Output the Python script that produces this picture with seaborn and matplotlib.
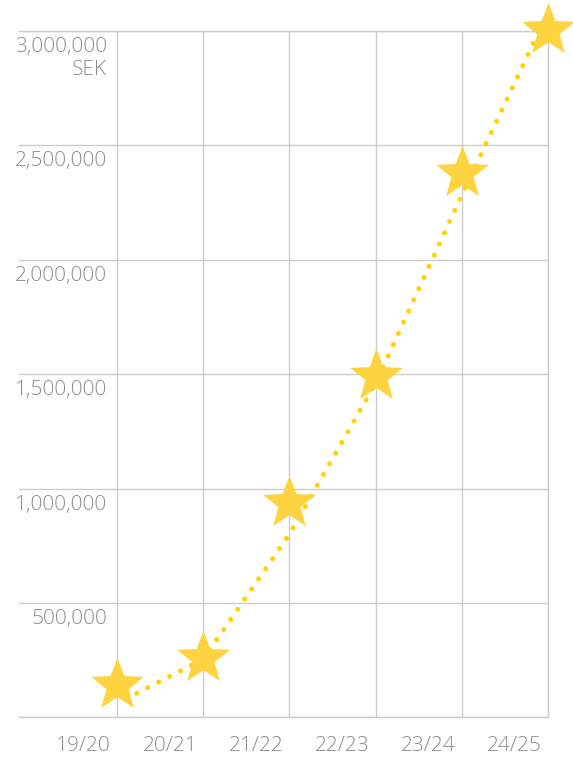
import numpy as np
import pandas as pd
import matplotlib
matplotlib.use("Agg")
import matplotlib.pyplot as plt
from matplotlib.path import Path
import seaborn as sns

# values
seasons = ["19/20", "20/21", "21/22", "22/23", "23/24", "24/25"]
trend_sek = [61000, 254000, 800000, 1461000, 2283000, 3083000]   # dotted line
star_sek = [140000, 258000, 936000, 1491000, 2379000, 3004000]   # star markers
y_ticks = [0, 500000, 1000000, 1500000, 2000000, 2500000, 3000000]
y_labels = ["", "500,000", "1,000,000", "1,500,000", "2,000,000", "2,500,000", "3,000,000\nSEK"]

df = pd.DataFrame({"season": seasons, "trend": trend_sek, "stars": star_sek})

sns.set_style("white")
plt.rcParams["font.family"] = ["Open Sans", "DejaVu Sans"]

grid_col = "#cccccc"
text_col = "#8c8c8c"
star_col = "#fdd33f"
dot_col = "#ffd200"

# slightly plump five-point star
ang = np.pi / 2 + np.arange(10) * np.pi / 5
rad = np.where(np.arange(10) % 2 == 0, 1.0, 0.42)
star_verts = np.column_stack([rad * np.cos(ang), rad * np.sin(ang)])
star = Path(np.vstack([star_verts, star_verts[:1]]), closed=True)

W, H = 573, 758
fig = plt.figure(figsize=(W / 100, H / 100), dpi=100)
ax = fig.add_axes([19 / W, (H - 717.3) / H, (548 - 19) / W, (717.3 - 31) / H])

sns.lineplot(data=df, x="season", y="trend", ax=ax, color=dot_col, linewidth=3.6,
             linestyle=(0.48, (0.01, 2.45)), dash_capstyle="round", clip_on=False, zorder=3)
sns.scatterplot(data=df, x="season", y="stars", ax=ax, marker=star, s=1600, color=star_col,
                linewidth=0, clip_on=False, zorder=4)

ax.set_xlim(-(117 - 19) / 86.2, 5)
ax.set_ylim(0, 3000000)
ax.set_yticks(y_ticks)
ax.set_xticks(range(len(seasons)))
ax.grid(True, color=grid_col, linewidth=1.0)
ax.set_axisbelow(True)

for side in ["top", "bottom", "right"]:
    ax.spines[side].set_color(grid_col)
    ax.spines[side].set_linewidth(1.0)
ax.spines["left"].set_visible(False)

ax.tick_params(axis="x", direction="out", length=28.5, width=1.0, color=grid_col,
               labelbottom=False)
ax.tick_params(axis="y", length=0, labelleft=False)
ax.set_xlabel("")
ax.set_ylabel("")

# y labels sit just under their grid line
for v, lab in zip(y_ticks, y_labels):
    if lab:
        ax.annotate(lab, xy=(0, v), xycoords=("axes fraction", "data"),
                    xytext=(88, -6), textcoords="offset pixels", ha="right", va="top",
                    fontsize=15, color=text_col, fontweight="light", linespacing=1.2,
                    multialignment="right")

# season labels left of each vertical line
for i, s in enumerate(seasons):
    ax.annotate(s, xy=(i, 0), xycoords=("data", "axes fraction"),
                xytext=(-6, -19), textcoords="offset pixels", ha="right", va="top",
                fontsize=15, color=text_col, fontweight="light")

fig.savefig("out.png", dpi=100)
